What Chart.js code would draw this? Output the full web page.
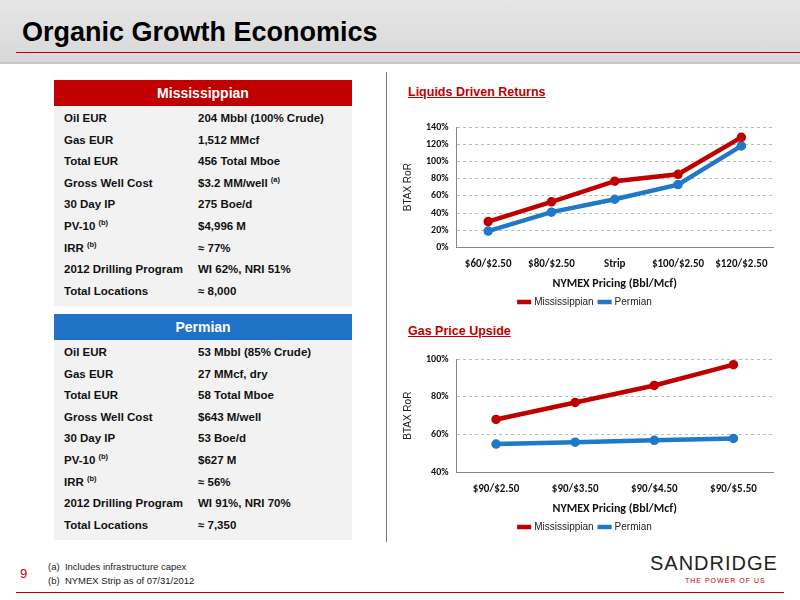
<!DOCTYPE html>
<html><head><meta charset="utf-8">
<script src="https://cdn.jsdelivr.net/npm/chart.js@4"></script>
<style>
body{margin:0;width:800px;height:600px;background:#fff;font-family:"Liberation Sans",Arial,sans-serif;position:relative;overflow:hidden}
#hdr{position:absolute;left:0;top:0;width:800px;height:62px;background:linear-gradient(#e6e6e6,#d8d8d8);border-bottom:2px solid #c8c8c8}
#hdr h1{position:absolute;left:22px;top:17px;margin:0;font-size:27px;font-weight:bold;color:#000}
#hdr .rl{position:absolute;left:16px;right:0;top:52px;height:1px;background:#c00000}
.tbl{position:absolute;left:54px;width:298px;font-size:11.5px;font-weight:bold;color:#111}
.tbl .h{height:26px;line-height:26px;text-align:center;color:#fff;font-size:14px}
.tbl .rows{background:#f2f2f2;padding:2px 0 4px}
.tbl .r{height:21.6px;line-height:21.6px;position:relative}
.tbl .r span{position:absolute}
.tbl .r .k{left:10px}.tbl .r .v{left:144px}
sup{font-size:7.5px;line-height:0}
.ct{position:absolute;left:408px;font-size:12.5px;font-weight:bold;color:#c00000;text-decoration:underline}
#div{position:absolute;left:386px;top:72px;width:1px;height:470px;background:#777}
.cw{position:absolute;left:398px;width:385px}
#foot{position:absolute;left:48px;top:560px;font-size:9.5px;color:#222;line-height:14px}
#pg{position:absolute;left:20px;top:566px;color:#c00000;font-size:13px}
#bl{position:absolute;left:16px;right:16px;top:592px;height:1px;background:#c00000}
#logo{position:absolute;left:650px;top:552px;font-size:20px;letter-spacing:1px;color:#222}
#tag{position:absolute;left:685px;top:577px;font-size:7px;color:#c00000;letter-spacing:1px}
</style></head><body>
<div id="hdr"><h1>Organic Growth Economics</h1><div class="rl"></div></div>
<div class="tbl" style="top:80px"><div class="h" style="background:#c00000">Mississippian</div><div class="rows" id="t1"></div></div>
<div class="tbl" style="top:314px"><div class="h" style="background:#1f72c6">Permian</div><div class="rows" id="t2"></div></div>
<div id="div"></div>
<div class="ct" style="top:85px">Liquids Driven Returns</div>
<div class="ct" style="top:324px">Gas Price Upside</div>
<div class="cw" style="top:113px;height:204px"><canvas id="c1"></canvas></div>
<div class="cw" style="top:345px;height:197px"><canvas id="c2"></canvas></div>
<div id="pg">9</div>
<div id="foot">(a)&nbsp;&nbsp;Includes infrastructure capex<br>(b)&nbsp;&nbsp;NYMEX Strip as of 07/31/2012</div>
<div id="logo">SANDRIDGE</div><div id="tag">THE POWER OF US</div>
<div id="bl"></div>
<script>
const missRows = [["Oil EUR","204 Mbbl (100% Crude)"],["Gas EUR","1,512 MMcf"],["Total EUR","456 Total Mboe"],["Gross Well Cost","$3.2 MM/well <sup>(a)</sup>"],["30 Day IP","275 Boe/d"],["PV-10 <sup>(b)</sup>","$4,996 M"],["IRR <sup>(b)</sup>","≈ 77%"],["2012 Drilling Program","WI 62%, NRI 51%"],["Total Locations","≈ 8,000"]];
const permRows = [["Oil EUR","53 Mbbl (85% Crude)"],["Gas EUR","27 MMcf, dry"],["Total EUR","58 Total Mboe"],["Gross Well Cost","$643 M/well"],["30 Day IP","53 Boe/d"],["PV-10 <sup>(b)</sup>","$627 M"],["IRR <sup>(b)</sup>","≈ 56%"],["2012 Drilling Program","WI 91%, NRI 70%"],["Total Locations","≈ 7,350"]];

const liqLabels = ["$60/$2.50","$80/$2.50","Strip","$100/$2.50","$120/$2.50"];
const liqMiss = [30,53,77,85,128];
const liqPerm = [19,41,56,73,118];
const gasLabels = ["$90/$2.50","$90/$3.50","$90/$4.50","$90/$5.50"];
const gasMiss = [68,77,86,97];
const gasPerm = [55,56,57,58];

function fill(id, rows){
  document.getElementById(id).innerHTML = rows.map(r =>
    `<div class="r"><span class="k">${r[0]}</span><span class="v">${r[1]}</span></div>`).join("");
}
fill("t1", missRows); fill("t2", permRows);

const RED = "#c00000", BLUE = "#1f78c8";
function ds(label, data, col){
  return {label, data, borderColor:col, backgroundColor:col, borderWidth:4.5,
    pointRadius:2.5, pointStyle:"circle", pointBackgroundColor:col, pointBorderColor:col, tension:0};
}
function make(id, labels, m, p, min, max, step){
  new Chart(document.getElementById(id), {
    type:"line",
    data:{labels, datasets:[ds("Mississippian",m,RED), ds("Permian",p,BLUE)]},
    options:{
      responsive:true, maintainAspectRatio:false, animation:false,
      layout:{padding:{left:0,right:10,top:4}},
      plugins:{
        legend:{position:"bottom", labels:{usePointStyle:true, pointStyle:"line", boxWidth:30, color:"#222",
          font:{family:"Liberation Sans", size:10}, padding:6}},
        tooltip:{enabled:false}
      },
      scales:{
        x:{offset:true, grid:{display:false, offset:true}, border:{color:"#888"},
          ticks:{color:"#111", padding:2, font:{family:"Carlito, Lato", size:11, weight:"bold"}},
          title:{display:true, text:"NYMEX Pricing (Bbl/Mcf)", color:"#111", padding:{top:4,bottom:0}, font:{family:"Carlito, Lato", size:12, weight:"bold"}}},
        y:{min, max, ticks:{stepSize:step, autoSkip:false, color:"#111", padding:8, callback:v=>v+"%", font:{family:"Carlito, Lato", size:10, weight:"bold"}},
          grid:{color:"#bbb", drawTicks:false}, border:{color:"#888", dash:[3,3]},
          title:{display:true, text:"BTAX RoR", color:"#222", font:{family:"Liberation Sans", size:10}}}
      }
    }
  });
}
make("c1", liqLabels, liqMiss, liqPerm, 0, 140, 20);
make("c2", gasLabels, gasMiss, gasPerm, 40, 100, 20);
</script>
</body></html>
